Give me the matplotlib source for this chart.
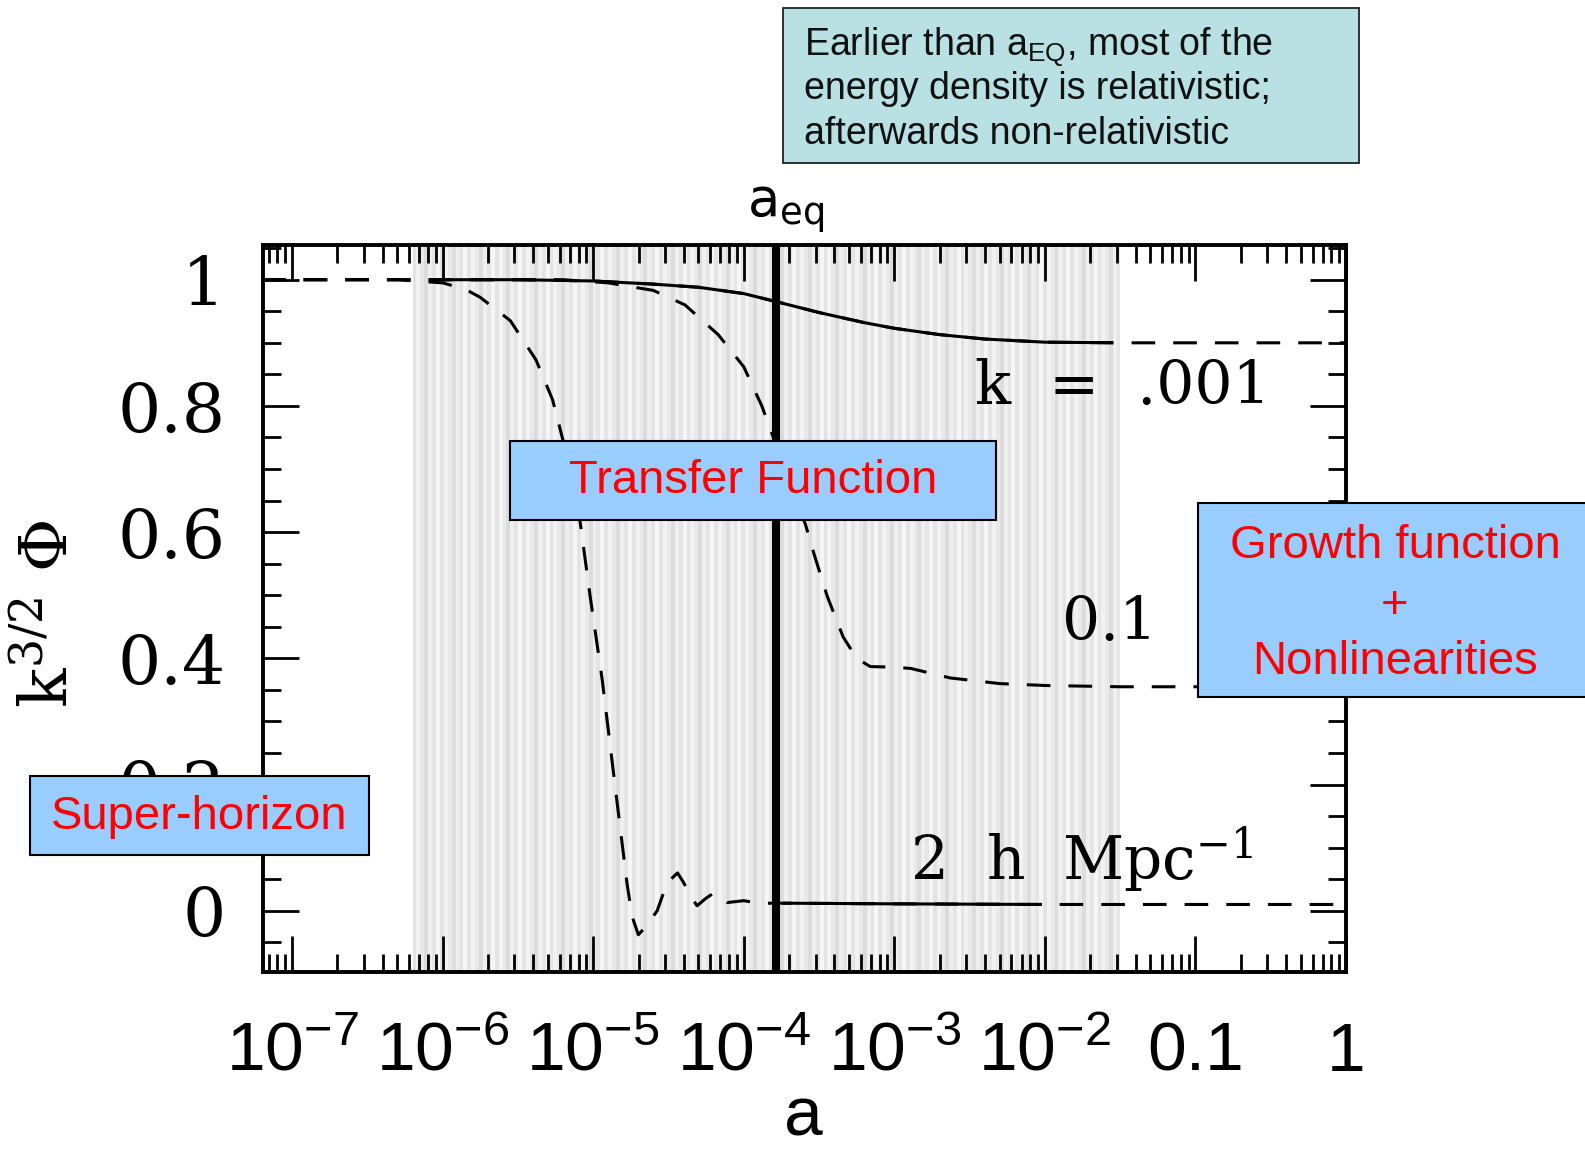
import numpy as np
import matplotlib
matplotlib.use('Agg')
import matplotlib.pyplot as plt
from matplotlib.patches import Rectangle
from matplotlib.ticker import LogLocator, MultipleLocator, NullFormatter

plt.rcParams['lines.scale_dashes'] = False

# k^{3/2} Phi against log10(a) for three wavenumbers
loga_k001 = [-7.2, -5.5, -5.0, -4.6, -4.3, -4.0, -3.78, -3.5, -3.2, -3.0,
             -2.7, -2.4, -2.0, -1.5, 0.0]
phi_k001 = [1.0, 1.0, 0.998, 0.993, 0.988, 0.978, 0.965, 0.948, 0.932, 0.923,
            0.913, 0.906, 0.901, 0.900, 0.900]

loga_k01 = [-7.2, -5.2, -4.9, -4.6, -4.39, -4.17, -4.0, -3.88, -3.78, -3.68,
            -3.59, -3.525, -3.445, -3.34, -3.25, -3.16, -3.0, -2.89, -2.63,
            -2.3, -2.0, -1.5, 0.0]
phi_k01 = [1.0, 1.0, 0.995, 0.983, 0.96, 0.913, 0.862, 0.80, 0.735, 0.67,
           0.612, 0.559, 0.498, 0.434, 0.40, 0.387, 0.386, 0.384, 0.369,
           0.360, 0.357, 0.355, 0.355]

loga_k2 = [-7.2, -6.3, -6.0, -5.85, -5.75, -5.55, -5.38, -5.27, -5.2, -5.14,
           -5.086, -5.02, -4.94, -4.874, -4.807, -4.774, -4.74, -4.70, -4.65,
           -4.575, -4.51, -4.44, -4.40, -4.35, -4.31, -4.25, -4.20, -4.11,
           -4.0, -3.9, -3.7, -3.0, -2.0, 0.0]
phi_k2 = [1.0, 1.0, 0.995, 0.985, 0.972, 0.935, 0.873, 0.81, 0.745, 0.68,
          0.615, 0.498, 0.366, 0.236, 0.105, 0.041, -0.01, -0.038, -0.025,
          0.0, 0.044, 0.06, 0.045, 0.022, 0.008, 0.02, 0.028, 0.013,
          0.016, 0.012, 0.012, 0.011, 0.010, 0.010]

# stretches of each curve drawn solid (log10 a)
solid_k001 = (-6.0, -1.55)
solid_k2 = (-3.74, -2.02)

a_eq = 1.64e-4
shade_range = (-6.2, -1.5)

x_ticks = [1e-7, 1e-6, 1e-5, 1e-4, 1e-3, 1e-2, 0.1, 1]
x_labels = [r'$\mathregular{10^{-7}}$', r'$\mathregular{10^{-6}}$',
            r'$\mathregular{10^{-5}}$', r'$\mathregular{10^{-4}}$',
            r'$\mathregular{10^{-3}}$', r'$\mathregular{10^{-2}}$', '0.1', '1']
y_ticks = [0, 0.2, 0.4, 0.6, 0.8, 1.0]
y_labels = ['0', '0.2', '0.4', '0.6', '0.8', '1']

W, H = 1585, 1150


def fx(px):
    return px / W


def fy(py):
    return 1 - py / H


fig = plt.figure(figsize=(W / 100, H / 100), dpi=100)
ax = fig.add_axes([fx(263), fy(972), (1346 - 263) / W, (972 - 245) / H])
ax.set_xscale('log')
ax.set_xlim(10 ** -7.193, 1)
ax.set_ylim(-0.097, 1.055)

# striped grey band
greys = ['#e4e4e4', '#f2f2f2', '#e9e9e9', '#dcdcdc', '#efefef', '#e5e5e5', '#f6f6f6']
step = 0.026
edges = np.arange(shade_range[0], shade_range[1], step)
for i, x0 in enumerate(edges):
    x1 = min(x0 + step, shade_range[1])
    ax.axvspan(10 ** x0, 10 ** x1, color=greys[i % len(greys)], lw=0, zorder=0.5)

ax.axvline(a_eq, color='k', lw=5.8, zorder=2)

dash = (0, (17, 13))
curves = [(loga_k001, phi_k001, solid_k001),
          (loga_k01, phi_k01, None),
          (loga_k2, phi_k2, solid_k2)]
for la, phi, solid in curves:
    a = 10 ** np.array(la)
    ax.plot(a, phi, color='k', lw=2.2, ls=dash, zorder=3)
    if solid is not None:
        line, = ax.plot(a, phi, color='k', lw=2.2, zorder=3.1)
        lo, hi = 10 ** solid[0], 10 ** solid[1]
        clip = Rectangle((lo, -1), hi - lo, 3, transform=ax.transData)
        line.set_clip_path(clip)

# ticks on all four sides
ax.tick_params(which='both', direction='in', top=True, right=True, width=2, color='k')
ax.tick_params(which='major', length=26)
ax.tick_params(which='minor', length=13)
ax.tick_params(axis='x', pad=71, labelsize=50)
ax.tick_params(axis='y', pad=27, labelsize=49)
ax.set_xticks(x_ticks, x_labels, fontfamily='Liberation Sans', va='baseline')
ax.xaxis.set_minor_locator(LogLocator(base=10, subs=np.arange(2, 10), numticks=60))
ax.xaxis.set_minor_formatter(NullFormatter())
ax.set_yticks(y_ticks, y_labels, fontfamily='DejaVu Serif')
ax.yaxis.set_minor_locator(MultipleLocator(0.05))
for s in ax.spines.values():
    s.set_linewidth(2.8)

serif = dict(fontfamily='DejaVu Serif', fontsize=43, color='k', zorder=4)
ax.text(10 ** -1.485, 0.803, 'k  =  .001', ha='center', va='baseline', **serif)
ax.text(10 ** -1.571, 0.429, '0.1', ha='center', va='baseline', **serif)
ax.text(10 ** -2.894, 0.048, r'2  h  $\mathregular{Mpc^{-1}}$', ha='left',
        va='baseline', **serif)
ax.text(10 ** -3.977, 1.0385, r'$\mathregular{a_{eq}}$', transform=ax.get_xaxis_transform(),
        ha='left', va='baseline', fontfamily='DejaVu Sans', fontsize=38)

fig.text(fx(50), fy(614), r'$\mathregular{k^{3/2}}$ Φ', rotation=90, ha='center',
         va='center', fontfamily='DejaVu Serif', fontsize=47)
fig.text(fx(803), fy(1136), 'a', ha='center', va='baseline',
         fontfamily='Liberation Sans', fontsize=50)


def box(x0, y0, x1, y1, fc, lw=1.5, ec='k'):
    fig.add_artist(Rectangle((fx(x0), fy(y1)), (x1 - x0) / W, (y1 - y0) / H,
                             transform=fig.transFigure, fc=fc, ec=ec, lw=lw, zorder=5))


sans = dict(fontfamily='Liberation Sans', zorder=6)

box(783, 8, 1359, 163, '#b9e0e2', lw=1.3, ec='#222222')
top_lines = [r'Earlier than $\mathregular{a_{EQ}}$, most of the',
             'energy density is relativistic;',
             'afterwards non-relativistic']
for txt, yb in zip(top_lines, [56, 99, 144]):
    fig.text(fx(804), fy(yb), txt, ha='left', va='baseline', fontsize=27,
             color='#111111', **sans)

red = dict(color='#ff0000', fontsize=34, ha='center', va='center', **sans)
box(510, 441, 996, 520, '#99ccff')
fig.text(fx(753), fy(481), 'Transfer Function', **red)

box(1198, 503, 1600, 697, '#99ccff')
fig.text(fx(1395), fy(546), 'Growth function', **red)
fig.text(fx(1395), fy(606), '+', **red)
fig.text(fx(1395), fy(662), 'Nonlinearities', **red)

box(30, 776, 369, 855, '#99ccff')
fig.text(fx(199), fy(817), 'Super-horizon', **red)

fig.savefig('out.png', dpi=100)
